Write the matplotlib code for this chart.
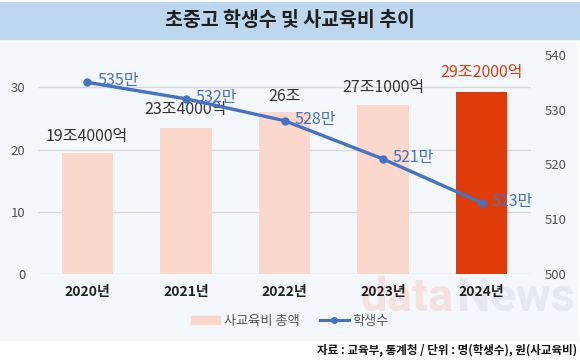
import matplotlib.pyplot as plt
from matplotlib.patches import Rectangle
from matplotlib.lines import Line2D

plt.rcParams['font.family'] = ['Noto Sans CJK KR', 'DejaVu Sans']

# data
years = ['2020년', '2021년', '2022년', '2023년', '2024년']
spending = [19.4, 23.4, 26.0, 27.1, 29.2]          # 조원
spending_labels = ['19조4000억', '23조4000억', '26조', '27조1000억', '29조2000억']
students = [535, 532, 528, 521, 513]                # 만명
student_labels = ['535만', '532만', '528만', '521만', '513만']

bar_light = '#fcd8cc'
bar_hi = '#e03c0a'
line_col = '#4472c4'

fig = plt.figure(figsize=(5.8, 3.61), dpi=100)
W, H = 580, 361

# title band and panel background
fig.patches.append(Rectangle((0, 1 - 39 / H), 1, 37 / H, transform=fig.transFigure,
                             color='#bdd7ee', zorder=-2))
fig.patches.append(Rectangle((0, 1 - 340 / H), 577 / W, (340 - 43) / H,
                             transform=fig.transFigure, color='#f4f7fc', zorder=-2))
fig.text(0.5, 1 - 20 / H, '초중고 학생수 및 사교육비 추이', ha='center', va='center',
         fontsize=14, fontweight='bold', color='#1e1e1e')

# watermark
fig.text(360 / W, 1 - 311 / H, 'data', fontsize=34, color='#f6ccc4', alpha=0.5,
         ha='left', va='baseline', family='Roboto', fontweight='bold', zorder=-1)
fig.text(575 / W, 1 - 311 / H, 'News', fontsize=34, color='#d8dee6', alpha=0.5,
         ha='right', va='baseline', family='Roboto', fontweight='bold', zorder=-1)

ax = fig.add_axes([38 / W, 1 - 274 / H, (531 - 38) / W, (274 - 55) / H])
ax.patch.set_alpha(0)
x = range(len(years))
colors = [bar_light] * 4 + [bar_hi]
ax.bar(x, spending, width=0.52, color=colors, zorder=2)
ax.set_ylim(0, 35.2)
ax.set_xlim(-0.5, 4.5)
ax.set_yticks([0, 10, 20, 30])
ax.grid(axis='y', color='#d9d9d9', linewidth=1, zorder=0)
for s in ax.spines.values():
    s.set_visible(False)
ax.tick_params(axis='both', length=0, labelsize=9.5, colors='#555555')
ax.tick_params(axis='y', pad=9)
ax.set_xticks(list(x))
ax.set_xticklabels(years, fontsize=10, color='#222222', fontweight='bold')
ax.tick_params(axis='x', pad=8)

label_off = [2.7, 3.0, 2.6, 2.9, 3.2]
for i, (v, t) in enumerate(zip(spending, spending_labels)):
    ax.text(i, v + label_off[i], t, ha='center', va='center', fontsize=11.5,
            color=bar_hi if i == 4 else '#333333', zorder=5)

ax2 = ax.twinx()
ax2.set_ylim(500, 540)
ax2.set_yticks([500, 510, 520, 530, 540])
for s in ax2.spines.values():
    s.set_visible(False)
ax2.tick_params(axis='y', length=0, labelsize=9.5, colors='#555555', pad=10)
ax2.plot(list(x), students, color=line_col, linewidth=2.4, marker='o',
         markersize=5, zorder=4)
for i, (v, t) in enumerate(zip(students, student_labels)):
    ax2.text(i + 0.1, v + 0.3, t, ha='left', va='center', fontsize=11.5,
             color=line_col, zorder=5)

handles = [Rectangle((0, 0), 1, 1, color=bar_light),
           Line2D([], [], color=line_col, linewidth=2.2, marker='o', markersize=4)]
fig.legend(handles, ['사교육비 총액', '학생수'], loc='center',
           bbox_to_anchor=(0.5, 1 - 321 / H), ncol=2, frameon=False,
           fontsize=9.5, labelcolor='#555555', handlelength=2.2, handleheight=0.6,
           columnspacing=1.5, handletextpad=0.3)

fig.text(577 / W, 1 - 350 / H, '자료 : 교육부, 통계청 / 단위 : 명(학생수), 원(사교육비)',
         ha='right', va='center', fontsize=8.3, fontweight='bold', color='#111111')

fig.savefig('out.png', dpi=100, facecolor='white')
